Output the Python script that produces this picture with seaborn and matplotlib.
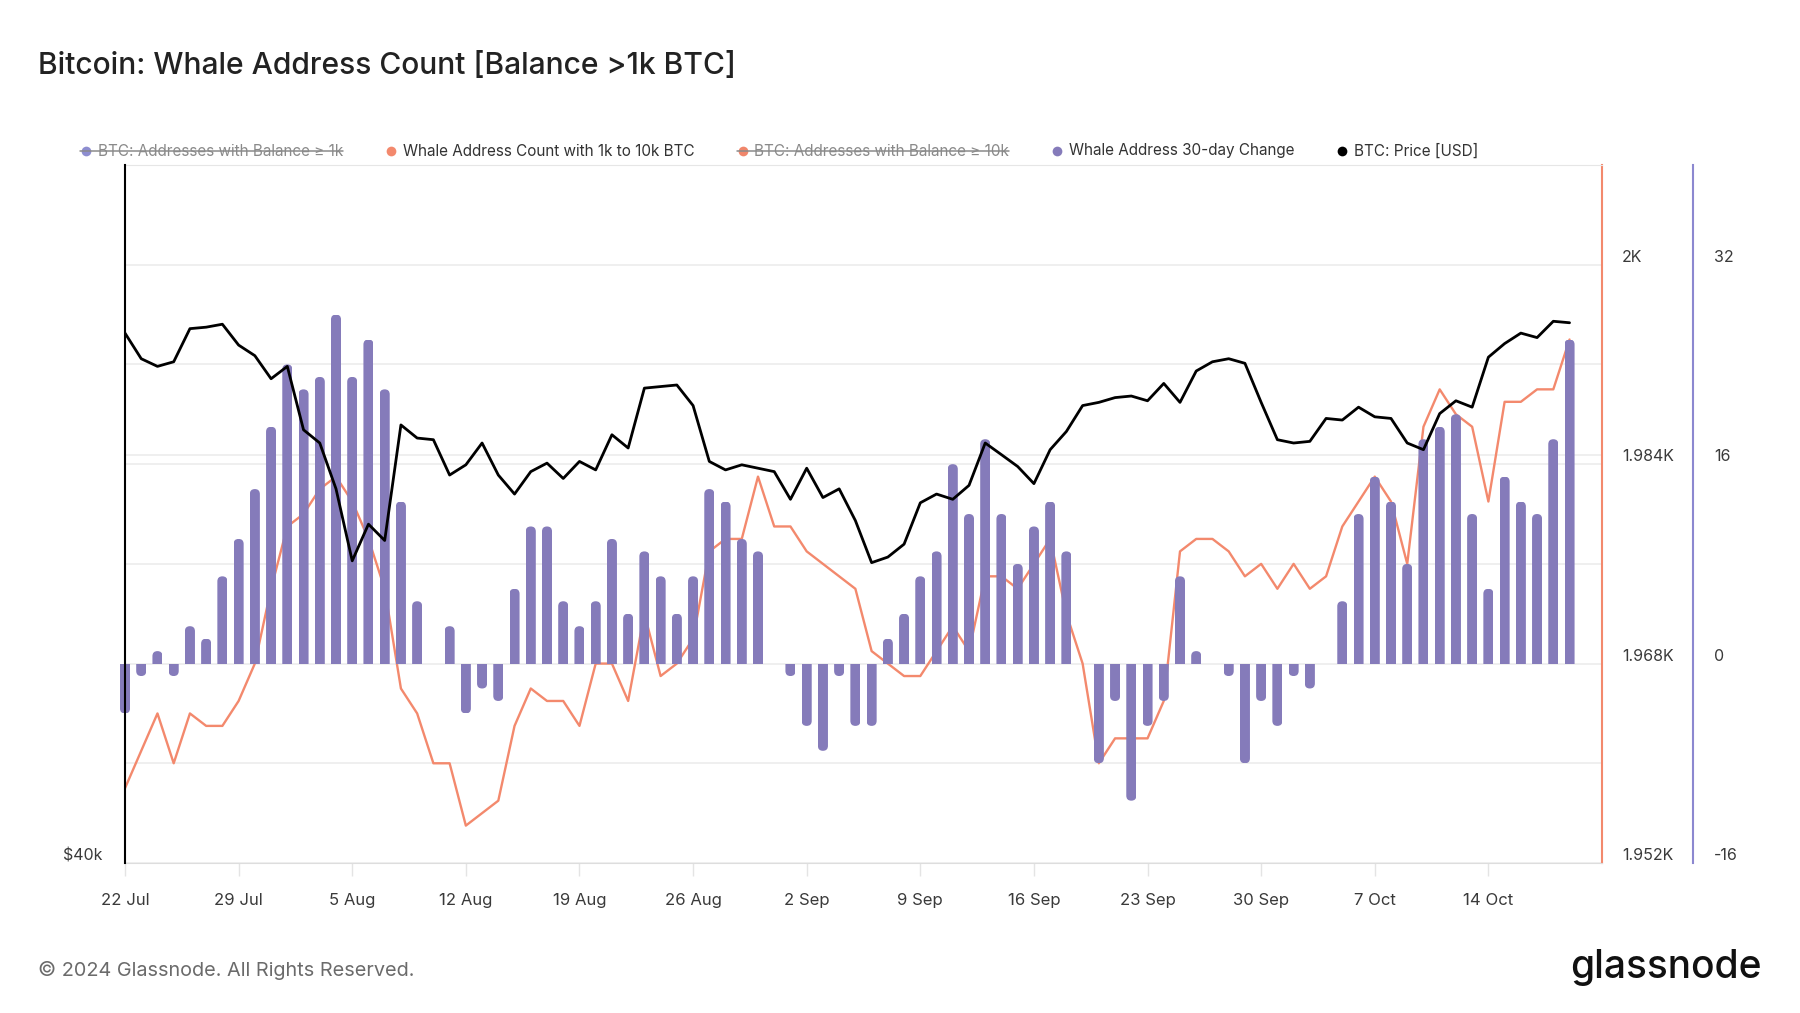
import matplotlib
matplotlib.use("Agg")
import matplotlib.pyplot as plt
import matplotlib.transforms as mtransforms
from matplotlib.patches import FancyBboxPatch, Rectangle
from matplotlib.lines import Line2D
import numpy as np
import pandas as pd
import seaborn as sns

# daily values, 22 Jul 2024 -> 19 Oct 2024
start_date = "2024-07-22"

whale_30d_change = [
    -4, -1, 1, -1, 3, 2, 7, 10, 14, 19, 24, 22, 23, 28, 23, 26, 22, 13, 5, 0,
    3, -4, -2, -3, 6, 11, 11, 5, 3, 5, 10, 4, 9, 7, 4, 7, 14, 13, 10, 9,
    0, -1, -5, -7, -1, -5, -5, 2, 4, 7, 9, 16, 12, 18, 12, 8, 11, 13, 9, 0,
    -8, -3, -11, -5, -3, 7, 1, 0, -1, -8, -3, -5, -1, -2, 0, 5, 12, 15, 13, 8,
    18, 19, 20, 12, 6, 15, 13, 12, 18, 26,
]

whale_count_1k_10k = [
    1958, 1961, 1964, 1960, 1964, 1963, 1963, 1965, 1968, 1974,
    1979, 1980, 1982, 1983, 1981, 1978, 1974, 1966, 1964, 1960,
    1960, 1955, 1956, 1957, 1963, 1966, 1965, 1965, 1963, 1968,
    1968, 1965, 1972, 1967, 1968, 1970, 1977, 1978, 1978, 1983,
    1979, 1979, 1977, 1976, 1975, 1974, 1969, 1968, 1967, 1967,
    1969, 1971, 1969, 1975, 1975, 1974, 1976, 1978, 1972, 1968,
    1960, 1962, 1962, 1962, 1965, 1977, 1978, 1978, 1977, 1975,
    1976, 1974, 1976, 1974, 1975, 1979, 1981, 1983, 1981, 1976,
    1987, 1990, 1988, 1987, 1981, 1989, 1989, 1990, 1990, 1994,
]

btc_price_usd = [
    67700, 66000, 65500, 65800, 68000, 68100, 68300, 66900, 66200, 64700,
    65500, 61500, 60700, 58000, 54000, 56000, 55100, 61800, 61000, 60900,
    58800, 59400, 60700, 58800, 57700, 59000, 59500, 58600, 59600, 59100,
    61200, 60400, 64100, 64200, 64300, 63000, 59600, 59100, 59400, 59200,
    59000, 57400, 59200, 57500, 58000, 56200, 53900, 54200, 54900, 57200,
    57700, 57400, 58200, 60700, 60000, 59300, 58300, 60300, 61400, 63000,
    63200, 63500, 63600, 63300, 64400, 63200, 65200, 65800, 66000, 65700,
    63200, 60900, 60700, 60800, 62200, 62100, 62900, 62300, 62200, 60700,
    60300, 62500, 63300, 62900, 66100, 67000, 67700, 67400, 68500, 68400,
]

legend_labels = [
    "BTC: Addresses with Balance \u2265 1k",
    "Whale Address Count with 1k to 10k BTC",
    "BTC: Addresses with Balance \u2265 10k",
    "Whale Address 30-day Change",
    "BTC: Price [USD]",
]
legend_hidden = [True, False, True, False, False]

dates = pd.date_range(start_date, periods=len(btc_price_usd))
days = np.arange(len(dates))

PURPLE = "#857BBA"
ORANGE = "#F3896D"
GRID = "#ECECEC"
TXT = "#3A3A3A"

sns.set_style("white")
plt.rcParams["font.family"] = ["Inter", "DejaVu Sans"]

W, H = 1800, 1013
fig = plt.figure(figsize=(W / 100, H / 100), dpi=100)
fig.patch.set_facecolor("white")


def fx(px):
    return px / W


def fy(py):
    return 1 - py / H


left, right, top, bottom = 125, 1602, 165, 863
ax_cnt = fig.add_axes([fx(left), fy(bottom), fx(right) - fx(left), fy(top) - fy(bottom)])
ax_bar = ax_cnt.twinx()
ax_price = ax_cnt.twinx()

# orange line (bottom layer)
sns.lineplot(x=days, y=whale_count_1k_10k, ax=ax_cnt, color=ORANGE, linewidth=1.7)
# purple bars
sns.barplot(x=days, y=whale_30d_change, ax=ax_bar, color=PURPLE, saturation=1,
            width=0.62, native_scale=True, edgecolor="none")
# black price line (top)
sns.lineplot(x=days, y=btc_price_usd, ax=ax_price, color="black", linewidth=2.0)

ax_cnt.set_xlim(0, 91)
ax_cnt.set_ylim(1952, 2008)
ax_bar.set_ylim(-16, 40)
ax_price.set_yscale("log")
ax_price.set_ylim(40000, 80000)

for a in (ax_cnt, ax_bar, ax_price):
    a.set_xlabel("")
    a.set_ylabel("")

# spines
for a in (ax_cnt, ax_bar, ax_price):
    for s in a.spines.values():
        s.set_visible(False)
ax_cnt.spines["bottom"].set_visible(True)
ax_cnt.spines["bottom"].set_color("#DDDDDD")
ax_cnt.spines["top"].set_visible(True)
ax_cnt.spines["top"].set_color("#E6E6E6")
ax_cnt.spines["right"].set_visible(True)
ax_cnt.spines["right"].set_color(ORANGE)
ax_cnt.spines["right"].set_linewidth(1.5)
ax_bar.spines["right"].set_visible(True)
ax_bar.spines["right"].set_position(("axes", (1693 - left) / (right - left)))
ax_bar.spines["right"].set_color("#8C88D0")
ax_bar.spines["right"].set_linewidth(1.5)
ax_price.spines["left"].set_visible(True)
ax_price.spines["left"].set_color("black")
ax_price.spines["left"].set_linewidth(1.5)

# rounded bar ends
fig.canvas.draw()
bb = ax_bar.get_window_extent()
px_per_x = bb.width / (91 - 0)
px_per_y = bb.height / (40 - -16)
bars = list(ax_bar.patches)
for p in bars:
    x0, w, h = p.get_x(), p.get_width(), p.get_height()
    p.remove()
    if h == 0:
        continue
    rx = w / 2
    ry = rx * px_per_x / px_per_y
    asp = ry / rx
    if h > 0:
        box = FancyBboxPatch((x0, -ry), w, h + ry, boxstyle=f"round,pad=0,rounding_size={rx}",
                             mutation_aspect=asp, facecolor=PURPLE, edgecolor="none")
        clip = Rectangle((x0, 0), w, h, transform=ax_bar.transData)
    else:
        box = FancyBboxPatch((x0, h), w, -h + ry, boxstyle=f"round,pad=0,rounding_size={rx}",
                             mutation_aspect=asp, facecolor=PURPLE, edgecolor="none")
        clip = Rectangle((x0, h), w, -h, transform=ax_bar.transData)
    ax_bar.add_patch(box)
    box.set_clip_path(clip)

# gridlines
ax_cnt.set_yticks([1952, 1968, 1984, 2000])
ax_cnt.set_yticklabels(["1.952K", "1.968K", "1.984K", "2K"])
ax_cnt.set_yticks([1960, 1976, 1992], minor=True)
ax_cnt.grid(axis="y", which="both", color=GRID, linewidth=1.2)
ax_cnt.set_axisbelow(True)
ax_cnt.plot([0, 1], [60000, 60000], color=GRID, linewidth=1.2, zorder=0,
            transform=mtransforms.blended_transform_factory(ax_cnt.transAxes, ax_price.transData))

ax_cnt.yaxis.tick_right()
ax_cnt.tick_params(axis="y", which="both", length=0, pad=14.5, labelsize=11.5, labelcolor=TXT)

ax_bar.set_yticks([-16, 0, 16, 32])
ax_bar.set_yticklabels(["-16", "0", "16", "32"])
ax_bar.tick_params(axis="y", length=0, pad=15, labelsize=11.5, labelcolor=TXT)

ax_price.yaxis.set_ticks_position("left")
ax_price.yaxis.set_label_position("left")
ax_price.set_yticks([40000])
ax_price.set_yticklabels(["$40k"])
ax_price.yaxis.set_minor_locator(matplotlib.ticker.NullLocator())
ax_price.tick_params(axis="y", which="both", length=0, pad=16, labelsize=11.5, labelcolor=TXT)

for a in (ax_cnt, ax_bar, ax_price):
    for lab in a.get_yticklabels():
        lab.set_va("bottom")

tick_days = days[::7]
ax_cnt.set_xticks(tick_days)
ax_cnt.set_xticklabels([f"{d.day} {d.strftime('%b')}" for d in dates[::7]])
ax_cnt.tick_params(axis="x", length=9, width=1, color="#E4E4E4", pad=12.5,
                   labelsize=12, labelcolor=TXT, bottom=True)

# title
fig.text(fx(38), fy(66), "Bitcoin: Whale Address Count [Balance >1k BTC]",
         fontsize=21.6, color="#222222", va="center", ha="left", fontweight="medium")

# legend
marker_x = [86, 391, 743, 1057, 1342]
text_x = [98, 403, 754, 1069, 1354]
marker_colors = ["#8D8DD0", ORANGE, "#F0866B", PURPLE, "black"]
ly = 151
legend_texts = []
for mx, tx, lab, col, hid in zip(marker_x, text_x, legend_labels, marker_colors, legend_hidden):
    fig.add_artist(Line2D([fx(mx)], [fy(ly)], marker="o", markersize=7, color=col,
                          markeredgewidth=0, transform=fig.transFigure))
    t = fig.text(fx(tx), fy(ly), lab, fontsize=11, va="center", ha="left",
                 color="#8A8A8A" if hid else "#333333")
    legend_texts.append((t, hid, mx))

fig.canvas.draw()
renderer = fig.canvas.get_renderer()
for t, hid, mx in legend_texts:
    if not hid:
        continue
    ext = t.get_window_extent(renderer)
    fig.add_artist(Line2D([fx(mx - 6), ext.x1 / W], [fy(ly), fy(ly)], color="#8A8A8A",
                          linewidth=1.1, transform=fig.transFigure))

# footer
fig.text(fx(38), fy(970), "\u00a9 2024 Glassnode. All Rights Reserved.", fontsize=14.3,
         color="#6B6B6B", va="center", ha="left")
fig.text(fx(1762), fy(967), "glassnode", fontsize=28, color="#111111", va="center",
         ha="right", fontweight="medium")

fig.savefig("out.png", dpi=100, facecolor="white")
